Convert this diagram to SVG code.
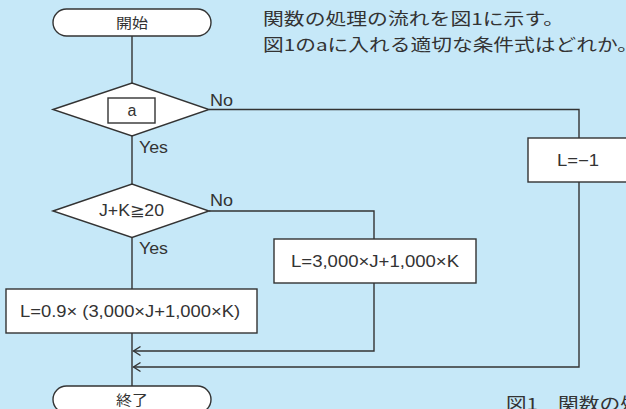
<svg xmlns="http://www.w3.org/2000/svg" width="626" height="409" viewBox="0 0 626 409">
<style>
.shape{fill:#fff;stroke:#333;stroke-width:1.4}
.conn{fill:none;stroke:#333;stroke-width:1.4}
.lat{font-family:"Liberation Sans",Arial,sans-serif;font-size:16px;fill:#333}
.cjk{font-family:"Noto Sans CJK JP","Noto Sans",sans-serif;fill:#333}
.lbl{font-size:14px}
.ttl{font-size:16.5px}
</style>
<defs>
<marker id="chev" markerUnits="userSpaceOnUse" markerWidth="12" markerHeight="12" viewBox="-8 -6 10 12" refX="0" refY="0" orient="auto">
<path d="M-7,-4.5 L0,0 L-7,4.5" fill="none" stroke="#333" stroke-width="1.4"/>
</marker>
</defs>
<rect width="626" height="409" fill="#c6e8f8"/>
<g id="title">
<text class="cjk ttl" x="263" y="25" textLength="301" lengthAdjust="spacingAndGlyphs">関数の処理の流れを図1に示す。</text>
<text class="cjk ttl" x="263" y="51" textLength="375" lengthAdjust="spacingAndGlyphs">図1のaに入れる適切な条件式はどれか。</text>
</g>
<g id="connectors">
<path class="conn" d="M132,36 V83"/>
<path class="conn" d="M132,136 V184"/>
<path class="conn" d="M209,109.5 H579 V138"/>
<path class="conn" d="M132,237.5 V289"/>
<path class="conn" d="M209,211 H374 V239"/>
<path class="conn" d="M132,333 V386"/>
<path class="conn" d="M374,283 V351 H133.5" marker-end="url(#chev)"/>
<path class="conn" d="M579,182 V367 H133.5" marker-end="url(#chev)"/>
<text class="lat" x="210" y="106" textLength="23" lengthAdjust="spacingAndGlyphs">No</text>
<text class="lat" x="139" y="152.5" textLength="29" lengthAdjust="spacingAndGlyphs">Yes</text>
<text class="lat" x="210" y="206" textLength="23" lengthAdjust="spacingAndGlyphs">No</text>
<text class="lat" x="139" y="254" textLength="29" lengthAdjust="spacingAndGlyphs">Yes</text>
</g>
<g id="start">
<rect class="shape" x="53" y="9" width="158" height="27" rx="13.5"/>
<text class="cjk lbl" x="116" y="27.5" textLength="32" lengthAdjust="spacingAndGlyphs">開始</text>
</g>
<g id="cond-a">
<polygon class="shape" points="53,109.5 132,83 209,109.5 132,136"/>
<rect class="shape" x="108" y="98" width="47" height="25"/>
<text class="lat" x="132" y="115.5" text-anchor="middle">a</text>
</g>
<g id="cond-jk">
<polygon class="shape" points="53,211 132,184 209,211 132,237.5"/>
<text class="lat" x="99" y="216" textLength="65" lengthAdjust="spacingAndGlyphs">J+K≧20</text>
</g>
<g id="l-minus1">
<rect class="shape" x="528" y="138" width="104" height="44"/>
<text class="lat" x="557" y="166" textLength="42" lengthAdjust="spacingAndGlyphs">L=−1</text>
</g>
<g id="l-full">
<rect class="shape" x="274" y="239" width="202" height="44"/>
<text class="lat" x="291" y="267" textLength="168" lengthAdjust="spacingAndGlyphs">L=3,000×J+1,000×K</text>
</g>
<g id="l-discount">
<rect class="shape" x="6" y="289" width="251" height="44"/>
<text class="lat" x="20" y="317" textLength="220" lengthAdjust="spacingAndGlyphs">L=0.9× (3,000×J+1,000×K)</text>
</g>
<g id="end">
<rect class="shape" x="53" y="386" width="158" height="27" rx="13.5"/>
<text class="cjk lbl" x="116" y="405" textLength="32" lengthAdjust="spacingAndGlyphs">終了</text>
</g>
<g id="caption">
<text class="cjk ttl" y="410"><tspan x="506" textLength="32" lengthAdjust="spacingAndGlyphs">図1</tspan><tspan x="558" textLength="166" lengthAdjust="spacingAndGlyphs">関数の処理の流れ</tspan></text>
</g>
</svg>
